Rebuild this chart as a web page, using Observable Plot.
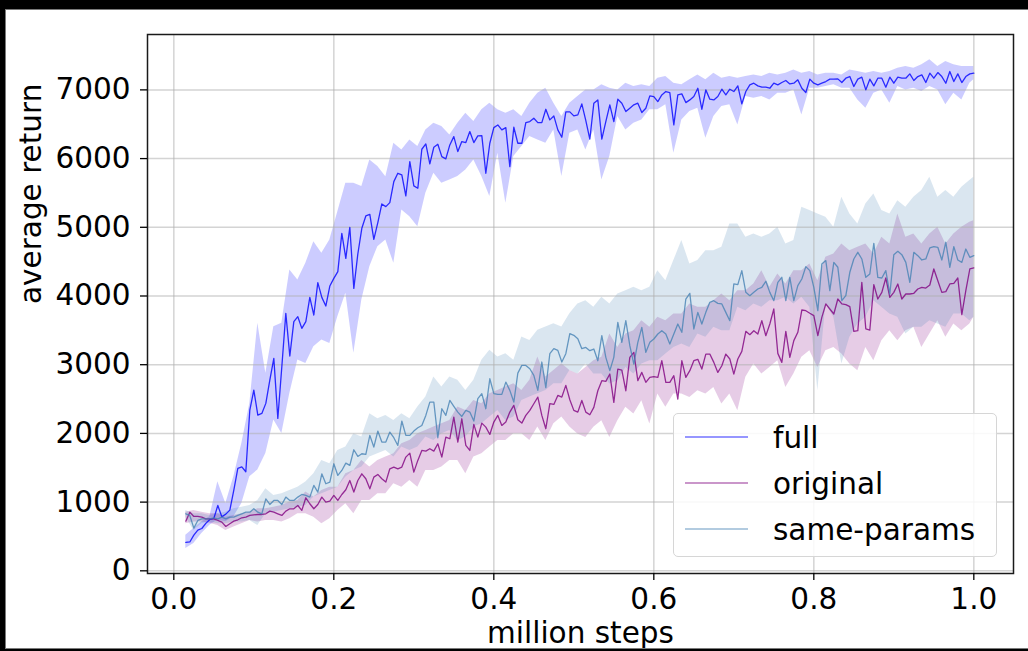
<!DOCTYPE html>
<html>
<head>
<meta charset="utf-8">
<script src="https://cdn.jsdelivr.net/npm/d3@7"></script>
<script src="https://cdn.jsdelivr.net/npm/@observablehq/plot@0.6"></script>
<style>
  html, body { margin: 0; padding: 0; background: #000; width: 1028px; height: 651px; overflow: hidden; }
  #fig { position: absolute; left: 5px; top: 9px; width: 1023px; height: 638px; background: #fff;
         border: 1px solid #7a7a7a; border-right: none; overflow: hidden; }
  #legend { position: absolute; left: 673px; top: 413px; width: 322px; height: 142px;
            border: 1px solid #d6d6d6; border-radius: 5px; background: rgba(255,255,255,0.85);
            font-family: "DejaVu Sans"; font-size: 29.5px; color: #000; }
  .swatch { position: absolute; left: 11px; width: 63px; height: 4px; }
  .lab { position: absolute; left: 99px; white-space: nowrap; line-height: 34px; height: 34px; }
</style>
</head>
<body>
<div id="fig"></div>
<div id="legend"></div>
<script>
// ---- data (million steps on x, average return on y) ----
const seriesNames = ["full", "original", "same-params"];
const seriesColors = ["blue", "purple", "steelblue"];

const xTicks = [0.0, 0.2, 0.4, 0.6, 0.8, 1.0];
const yTicks = [0, 1000, 2000, 3000, 4000, 5000, 6000, 7000];

// evaluation points every 0.005 million steps, from 0.015 to 1.0 (198 points)
const steps = d3.range(198).map(i => +(0.015 + 0.005 * i).toFixed(3));
// band points every 0.01 million steps, plus the final point at 1.0 (100 points)
const bandSteps = d3.range(99).map(i => +(0.015 + 0.01 * i).toFixed(3)).concat([1.0]);

const fullMean = [
  413, 420, 519, 592, 616, 690, 748, 762, 951, 786,
  825, 883, 1175, 1490, 1514, 1442, 2340, 2631, 2267, 2291,
  2437, 2777, 3092, 2218, 2971, 3747, 3126, 3626, 3699, 3529,
  3626, 3980, 3723, 4194, 3980, 3854, 4145, 4257, 4354, 4912,
  4548, 5000, 4111, 4611, 4985, 5165, 5189, 4825, 5068, 5340,
  5301, 5359, 5665, 5786, 5762, 5456, 5956, 5602, 5568, 6136,
  6213, 5922, 6165, 6208, 6029, 5995, 6199,
  6320, 6102, 6248, 6233, 6393, 6233, 6330, 6335, 5786, 6223,
  6451, 6490, 6417, 6451, 5883, 6456, 6223, 6223, 6524, 6539,
  6587, 6524, 6524, 6718, 6563, 6621, 6417, 6311, 6680, 6680,
  6621, 6636, 6796, 6553, 6282, 6806, 6854, 6282, 6539, 6782,
  6539, 6864, 6806, 6684, 6733, 6782, 6806, 6670, 6733, 6913,
  6903, 6830, 6927, 6976, 6961, 6490, 6927, 6942, 6815, 6854,
  6903, 7024, 6718, 7000, 6864, 6854, 6903, 7010, 6927, 7010,
  6976, 7058, 6796, 6976, 7073, 7097, 7058, 7039, 7039, 7024,
  7097, 7073, 7107, 7136, 7087, 7097, 7146, 7024, 6961, 7156,
  7097, 7073, 7097, 7121, 7156, 7156, 7160, 7107, 7170, 7194,
  7049, 7156, 7185, 7000, 7156, 7058, 7170, 7170, 7039, 7185,
  7097, 7185, 7170, 7170, 7233, 7136, 7194, 7218, 7107, 7243,
  7170, 7252, 7194, 7097, 7267, 7121, 7233, 7107, 7194, 7233, 7243
];

const originalMean = [
  723, 854, 791, 791, 781, 757, 757, 757, 733, 709,
  646, 684, 723, 743, 772, 781, 806, 815, 820, 820,
  830, 869, 854, 830, 806, 869, 903, 903, 951, 879,
  1063, 976, 903, 966, 1073, 1000, 1014, 1097, 1024, 1111,
  1180, 1315, 1146, 1315, 1412, 1340, 1194, 1364, 1403, 1340,
  1291, 1485, 1510, 1485, 1510, 1655, 1713, 1437, 1607, 1752,
  1743, 1777, 1743, 1849, 1655, 1946, 1922, 2238, 1874, 2213,
  1825, 1752, 2131, 1946, 2150, 2092, 1985, 2165, 2262, 2116,
  2165, 2310, 2408, 2199, 2150, 2262, 2335, 2432, 2529, 2262,
  2068, 2432, 2422, 2553, 2529, 2699, 2490, 2335, 2310, 2480,
  2310,
  2272, 2379, 2621, 2767, 2757, 2864, 2451, 2937, 2922, 2621,
  3107, 3180, 2767, 2888, 2743, 2816, 2825, 2816, 3058, 2743,
  2743, 2840, 2500, 3058, 2816, 2913, 3058, 3078, 2937, 3155,
  3155, 3034, 2888, 2985, 3155, 3083, 2864, 3083, 3194, 3486,
  3437, 3495, 3447, 3641, 3422, 3592, 3811, 3165, 3034, 3486,
  3107, 3350, 3471, 3796, 3786, 3748, 3714, 3422, 3689, 3884,
  3811, 3738, 3956, 3884, 3874, 3845, 3486, 3495, 4199, 3520,
  3505, 4165, 3956, 4053, 4262, 3981, 4053, 4175, 3956, 4029,
  4029, 4039, 4102, 4126, 4116, 4160, 4393, 4223, 4053, 4063,
  4175, 4185, 4262, 3728, 4078, 4393, 4408
];

const sameParamsMean = [
  830, 806, 621, 733, 757, 757, 757, 772, 757, 781,
  757, 781, 781, 806, 830, 854, 854, 903, 854, 830,
  1048, 966, 1024, 1024, 966, 1073, 1024, 1024, 1073, 1111,
  1097, 1073, 1243, 1146, 1412, 1267, 1291, 1558, 1388, 1461,
  1568, 1534, 1762, 1665, 1704, 1694, 1971, 1801, 2034, 1874,
  1874, 2019, 1937, 1825, 2180, 1971, 1971, 2034, 2082, 2116,
  2262, 2456, 2456, 1937, 2359, 2262, 2480, 2393, 2310, 2247,
  2335, 2310, 2180, 2505, 2578, 2359, 2796, 2578, 2568, 2568,
  2747, 2626, 2456, 2878, 2990, 2990, 2941, 2845, 2626, 3039,
  2665, 3160, 3233, 3209, 3039, 3160, 3451, 3427, 3378, 3233,
  3252, 3204, 3228, 3058, 3422, 3107, 2913, 3107, 3617, 3325,
  3641, 3277, 3010, 3325, 3544, 3180, 3325, 3374, 3447, 3495,
  3447, 3301, 3447, 3592, 3471, 3956, 4039, 3520, 3762, 3592,
  3762, 3908, 3932, 3893, 3884, 3762, 3641, 4175, 4165, 4369,
  4053, 4005, 4053, 4102, 4126, 4214, 4053, 3932, 4199, 4272,
  3932, 4272, 3932, 4150, 4248, 4427, 4369, 4126, 3786, 4466,
  4515, 4078, 4490, 4418, 3932, 4005, 4345, 4539, 4636, 4539,
  4272, 4320, 4767, 4272, 4262, 4369, 4029, 4602, 4650, 4602,
  4490, 4199, 4636, 4587, 4524, 4539, 4699, 4718, 4709, 4524,
  4782, 4418, 4718, 4524, 4490, 4684, 4563, 4587
];

const fullLow = [
  325, 398, 544, 665, 738, 713, 786, 980, 1369, 1466,
  1709, 2194, 2000, 2582, 3068, 3019, 3262, 3359, 3310, 3699,
  4039, 3165, 3941, 4427, 4718, 4815, 4475, 5252, 5155, 5009,
  5495, 5786, 5640,
  5689, 5738, 5835, 5981, 5738, 5447, 6078, 5350, 6029, 6175,
  6320, 6272, 6223, 6417, 5738, 6369, 6417, 6126, 6417, 5689,
  6029, 6612, 6417, 6515, 6563, 6709, 6709, 6782, 6078, 6563,
  6684, 6733, 6296, 6612, 6757, 6782, 6490, 6903, 6879, 6903,
  6854, 6951, 6951, 7000, 6636, 7024, 7024, 7049, 7073, 7024,
  7024, 6854, 6733, 6951, 7000, 6806, 7049, 7000, 7024, 6976,
  7049, 7000, 6782, 6951, 6854, 7097, 7146
];
const fullHigh = [
  519, 616, 713, 786, 1296, 980, 1369, 1854, 2437, 3602,
  2874, 3553, 3602, 4378, 4233, 4475, 4791, 4621, 4815, 5228,
  5640, 5640, 5592, 5980, 5883, 5737, 6223, 6126, 6272, 6175,
  6417, 6514, 6466,
  6345, 6515, 6660, 6539, 6709, 6806, 6709, 6660, 6709, 6612,
  6806, 6951, 7024, 6806, 6612, 6806, 6903, 7000, 7000, 7073,
  7024, 7000, 7097, 7049, 7073, 7049, 7170, 7194, 7097, 7073,
  7146, 7218, 7146, 7243, 7170, 7194, 7170, 7194, 7218, 7194,
  7243, 7218, 7243, 7291, 7243, 7267, 7218, 7243, 7243, 7218,
  7291, 7267, 7243, 7267, 7243, 7267, 7316, 7340, 7316, 7364,
  7437, 7340, 7413, 7364, 7340, 7340, 7340
];

const originalLow = [
  684, 709, 709, 694, 660, 587, 636, 684, 733, 709,
  733, 733, 709, 757, 830, 830, 781, 684, 757, 879,
  976, 830, 1024, 1024, 1121, 1121, 1267, 1218, 1315, 1218,
  1461, 1461, 1510, 1607, 1607, 1412, 1655, 1704, 1801, 1898,
  1898, 1995, 1995, 1898, 2092, 1898, 2141, 2238, 2092,
  1990, 1942, 2088, 2185, 1942, 2185, 2379, 2282, 2476, 2136,
  2573, 2379, 2573, 2573, 2524, 2621, 2573, 2670, 2427, 2573,
  2330, 2816, 3010, 2864, 2961, 3058, 2670, 2864, 3107, 3204,
  2961, 3204, 3252, 3155, 3010, 2913, 3252, 3058, 3350, 3495,
  3350, 3495, 3544, 3252, 3447, 3641, 3398, 3592, 3495, 3592,
  3689
];
const originalHigh = [
  854, 879, 854, 830, 830, 781, 806, 830, 854, 903,
  903, 927, 951, 1000, 1024, 1146, 1073, 1170, 1218, 1218,
  1412, 1461, 1607, 1510, 1607, 1655, 1704, 1849, 1898, 1995,
  2044, 2092, 2141, 2189, 2383, 2335, 2480, 2432, 2578, 2626,
  2675, 2723, 2626, 2772, 3112, 2820, 2917, 3015, 2917,
  2864, 2961, 3058, 3107, 3447, 3252, 3447, 3495, 3641, 3544,
  3689, 3641, 3738, 3738, 3884, 3835, 3835, 3932, 4029, 3932,
  4078, 4078, 4175, 4369, 4126, 4320, 4175, 4369, 4369, 4466,
  4223, 4563, 4612, 4757, 4660, 4709, 4757, 4612, 4854, 4757,
  5194, 4854, 4903, 4757, 4903, 5000, 4757, 4903, 5000, 5073,
  5097
];

const sameParamsLow = [
  781, 587, 684, 709, 684, 684, 709, 709, 733, 660,
  830, 854, 879, 903, 927, 951, 1073, 1121, 1170, 1218,
  1364, 1461, 1510, 1655, 1704, 1752, 1655, 1801, 1752, 1801,
  1946, 1898, 1995, 2044, 1898, 1946, 2092, 2141, 2238, 2335,
  2189, 2238, 2480, 2529, 2578, 2626, 2723, 2723, 2917,
  2864, 3010, 2864, 2864, 2719, 2767, 2961, 2864, 3010, 3058,
  3058, 3155, 3252, 3301, 3252, 3447, 3398, 3544, 3495, 3495,
  3835, 3786, 3884, 3835, 3932, 3932, 3981, 3884, 3981, 3835,
  2621, 3884, 3689, 3010, 3398, 3592, 3689, 3932, 3835, 3738,
  3689, 3447, 3544, 3544, 3641, 3592, 3544, 3738, 3738, 3641,
  3689
];
const sameParamsHigh = [
  879, 830, 830, 806, 830, 854, 903, 927, 951, 1024,
  1194, 1097, 1121, 1170, 1218, 1291, 1412, 1607, 1558, 1752,
  1801, 1995, 1946, 2286, 2213, 2262, 2189, 2286, 2213, 2383,
  2529, 2820, 2675, 2820, 2772, 2626, 2772, 3063, 3209, 3112,
  3160, 3063, 3403, 3354, 3500, 3548, 3597, 3548, 3742,
  3884, 3932, 3835, 3981, 3884, 4029, 4078, 4126, 4078, 4126,
  4369, 4223, 4515, 4806, 4466, 4515, 4660, 4660, 4709, 5049,
  5049, 4854, 4903, 4854, 4903, 5000, 4757, 4806, 5291, 5243,
  5194, 5146, 5000, 5437, 5194, 5049, 5340, 5485, 5243, 5194,
  5388, 5291, 5437, 5534, 5728, 5437, 5534, 5437, 5583, 5680,
  5728
];

// ---- tables built from the arrays ----
const means = [fullMean, originalMean, sameParamsMean];
const lows = [fullLow, originalLow, sameParamsLow];
const highs = [fullHigh, originalHigh, sameParamsHigh];

const lineData = seriesNames.map((name, s) =>
  steps.map((x, i) => ({series: name, x, y: means[s][i]})));
const bandData = seriesNames.map((name, s) =>
  bandSteps.map((x, i) => ({series: name, x, lo: lows[s][i], hi: highs[s][i]})));

const gridStyle = {stroke: "#b0b0b0", strokeOpacity: 0.55, strokeWidth: 1.5};

const chart = Plot.plot({
  width: 1022,
  height: 680,
  marginLeft: 141,
  marginRight: 15,
  marginTop: 24,
  marginBottom: 117,
  x: {domain: [-0.0329, 1.0496]},
  y: {domain: [-39, 7806]},
  style: {fontFamily: "DejaVu Sans", fontSize: "29.5px", color: "#000", background: "transparent", overflow: "visible"},
  marks: [
    ...bandData.map((d, s) => Plot.areaY(d, {x: "x", y1: "lo", y2: "hi", fill: seriesColors[s], fillOpacity: 0.2})),
    Plot.gridX(xTicks, gridStyle),
    Plot.gridY(yTicks, gridStyle),
    ...lineData.map((d, s) => Plot.line(d, {x: "x", y: "y", stroke: seriesColors[s], strokeOpacity: 0.8, strokeWidth: 1.3})),
    Plot.frame({stroke: "#1a1a1a", strokeWidth: 1.5}),
    Plot.axisX({ticks: xTicks, tickFormat: d3.format(".1f"), tickSize: 7, tickPadding: 8, strokeWidth: 1.3, label: null}),
    Plot.axisY({ticks: yTicks, tickFormat: d => String(d), tickSize: 7, tickPadding: 10, strokeWidth: 1.3, label: null}),
    Plot.text(["average return"], {text: d => d, frameAnchor: "left", dx: -107, rotate: -90, lineAnchor: "bottom", fontSize: 29.5, fill: "#000"}),
    Plot.text(["million steps"], {text: d => d, frameAnchor: "bottom", dy: 69, lineAnchor: "bottom", fontSize: 29.5, fill: "#000"})
  ]
});
document.getElementById("fig").appendChild(chart);

// ---- legend ----
const legend = document.getElementById("legend");
const rowCenters = [23, 69, 115];
const svgNS = "http://www.w3.org/2000/svg";
seriesNames.forEach((name, s) => {
  const sw = document.createElementNS(svgNS, "svg");
  sw.setAttribute("class", "swatch");
  sw.setAttribute("width", 63);
  sw.setAttribute("height", 4);
  sw.style.top = (rowCenters[s] - 2) + "px";
  const ln = document.createElementNS(svgNS, "line");
  ln.setAttribute("x1", 0); ln.setAttribute("x2", 63);
  ln.setAttribute("y1", 2); ln.setAttribute("y2", 2);
  ln.setAttribute("stroke", seriesColors[s]);
  ln.setAttribute("stroke-opacity", 0.55);
  ln.setAttribute("stroke-width", 1.6);
  sw.appendChild(ln);
  const lab = document.createElement("div");
  lab.className = "lab";
  lab.style.top = (rowCenters[s] - 16) + "px";
  lab.textContent = name;
  legend.appendChild(sw);
  legend.appendChild(lab);
});
</script>
</body>
</html>
